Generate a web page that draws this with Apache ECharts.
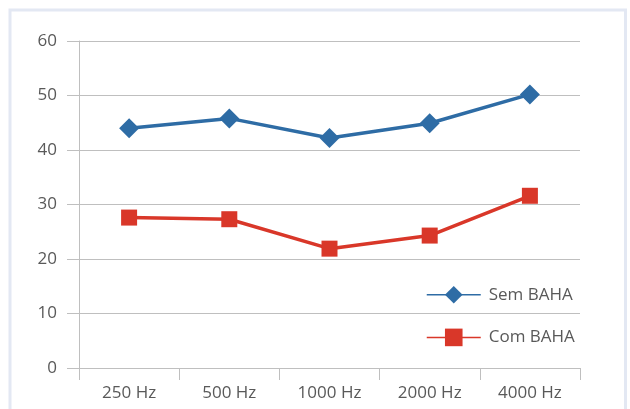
<!DOCTYPE html>
<html>
<head>
<meta charset="utf-8">
<script src="https://cdn.jsdelivr.net/npm/echarts@6/dist/echarts.min.js"></script>
<style>
html,body{margin:0;padding:0;background:#fff;}
#chart{width:630px;height:409px;}
</style>
</head>
<body>
<div id="chart"></div>
<script>
var categories = ['250 Hz', '500 Hz', '1000 Hz', '2000 Hz', '4000 Hz'];
var semBaha = [44.0, 45.8, 42.2, 44.9, 50.2];
var comBaha = [27.6, 27.3, 21.9, 24.3, 31.6];
var seriesNames = ['Sem BAHA', 'Com BAHA'];

var chart = echarts.init(document.getElementById('chart'), null, {renderer: 'canvas'});
var font = '"Open Sans", "Liberation Sans", sans-serif';
var axisGray = '#bfbfbf';
var textGray = '#595959';

chart.setOption({
  animation: false,
  backgroundColor: '#fff',
  graphic: [{
    type: 'rect',
    shape: {x: 10, y: 10, width: 615.5, height: 420},
    style: {fill: 'none', stroke: '#e3e8f3', lineWidth: 3},
    silent: true,
    z: -10
  }],
  grid: {left: 79, right: 50, top: 41, bottom: 41, containLabel: false},
  legend: {
    orient: 'vertical',
    left: 426,
    top: 286,
    padding: 0,
    itemWidth: 54,
    itemHeight: 22,
    itemGap: 25,
    lineStyle: {width: 1.5},
    textStyle: {fontFamily: font, fontSize: 17, color: textGray, padding: [0, 0, 0, 3]},
    data: seriesNames
  },
  xAxis: {
    type: 'category',
    data: categories,
    boundaryGap: true,
    axisLine: {show: true, lineStyle: {color: axisGray, width: 1}},
    axisTick: {show: true, length: 12, inside: false, lineStyle: {color: axisGray}},
    axisLabel: {fontFamily: font, fontSize: 17, color: textGray, margin: 17},
    splitLine: {show: false}
  },
  yAxis: {
    type: 'value',
    min: 0,
    max: 60,
    interval: 10,
    axisLine: {show: true, lineStyle: {color: axisGray, width: 1}},
    axisTick: {show: true, length: 12, inside: false, lineStyle: {color: axisGray}},
    axisLabel: {fontFamily: font, fontSize: 17, color: textGray, margin: 22},
    splitLine: {show: true, lineStyle: {color: axisGray, width: 1}}
  },
  series: [{
    name: seriesNames[0],
    type: 'line',
    data: semBaha,
    symbol: 'diamond',
    symbolSize: 20,
    color: '#2e6ca5',
    lineStyle: {width: 3.5, color: '#2e6ca5'},
    itemStyle: {color: '#2e6ca5'}
  }, {
    name: seriesNames[1],
    type: 'line',
    data: comBaha,
    symbol: 'rect',
    symbolSize: 16,
    color: '#d93729',
    lineStyle: {width: 3.5, color: '#d93729'},
    itemStyle: {color: '#d93729'}
  }]
});
</script>
</body>
</html>
